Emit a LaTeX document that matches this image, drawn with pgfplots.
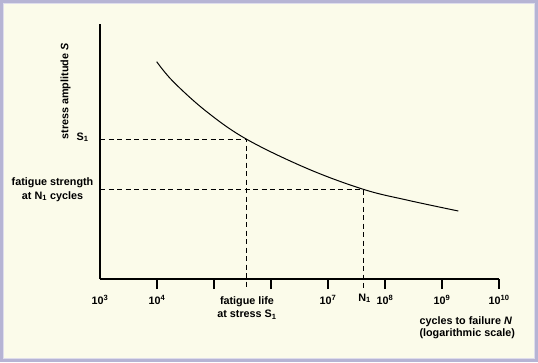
\documentclass[border=0pt]{standalone}
\usepackage{pgfplots}
\pgfplotsset{compat=1.18}
\usepackage{fontspec}
\setmainfont{Liberation Sans}
\definecolor{bg}{RGB}{251,251,234}
\definecolor{framec}{RGB}{182,180,212}
\begin{document}
\begin{tikzpicture}[x=1pt,y=1pt,font=\fontsize{10.8}{13}\selectfont\bfseries]
\useasboundingbox (0,0) rectangle (538,362);
\fill[bg] (0,0) rectangle (538,362);
\draw[framec, line width=3pt] (1.5,1.5) rectangle (536.5,360.5);
\draw[white!55!framec, line width=0.8pt] (3.4,3.4) rectangle (534.6,358.6);
\begin{axis}[
  at={(100pt,83pt)}, anchor=south west,
  scale only axis, width=399pt, height=255pt,
  xmin=3, xmax=10, ymin=0, ymax=255,
  axis x line=bottom, axis y line=left,
  axis line style={-, line width=1.4pt, black},
  ytick=\empty,
  xtick={4,5,6,7,8,9,10},
  xticklabels={10\textsuperscript{4},{},{},10\textsuperscript{7},10\textsuperscript{8},10\textsuperscript{9},10\textsuperscript{10}},
  extra x ticks={3},
  extra x tick labels={10\textsuperscript{3}},
  extra x tick style={major tick length=0pt, xticklabel style={yshift=-10pt}},
  tick align=outside,
  major tick length=10pt,
  tick style={line width=1.4pt, black},
  xticklabel style={anchor=base, yshift=-15.3pt, font=\fontsize{10.8}{13}\selectfont\bfseries},
  clip=false,
]
\addplot[line width=1pt, black, smooth, tension=0.6] coordinates {
 (3.995,217.3) (4.286,197.3) (4.872,167.3) (5.574,139.7) (6.626,110.7) (7.619,89.7) (8.381,79) (9.286,68)
};
\addplot[line width=0.8pt, black, dash pattern=on 5pt off 3.5pt] coordinates {(3,139.7) (5.574,139.7) (5.574,-10)};
\addplot[line width=0.8pt, black, dash pattern=on 5pt off 3.5pt] coordinates {(3,89.7) (7.619,89.7) (7.619,-10)};
\node[anchor=base east] at (axis cs:2.860,139) {S\textsubscript{1}};
\node[anchor=base] at (axis cs:2.167,93) {fatigue strength};
\node[anchor=base] at (axis cs:2.167,79.7) {at N\textsubscript{1} cycles};
\node[anchor=base, rotate=90] at (axis cs:2.444,187.5) {stress amplitude \textit{S}};
\node[anchor=base] at (axis cs:5.579,-25.7) {fatigue life};
\node[anchor=base] at (axis cs:5.579,-38.7) {at stress S\textsubscript{1}};
\node[anchor=base] at (axis cs:7.642,-22) {N\textsubscript{1}};
\node[anchor=base west] at (axis cs:8.544,-45.3) {cycles to failure \textit{N}};
\node[anchor=base west] at (axis cs:8.544,-57.7) {(logarithmic scale)};
\end{axis}
\end{tikzpicture}
\end{document}
